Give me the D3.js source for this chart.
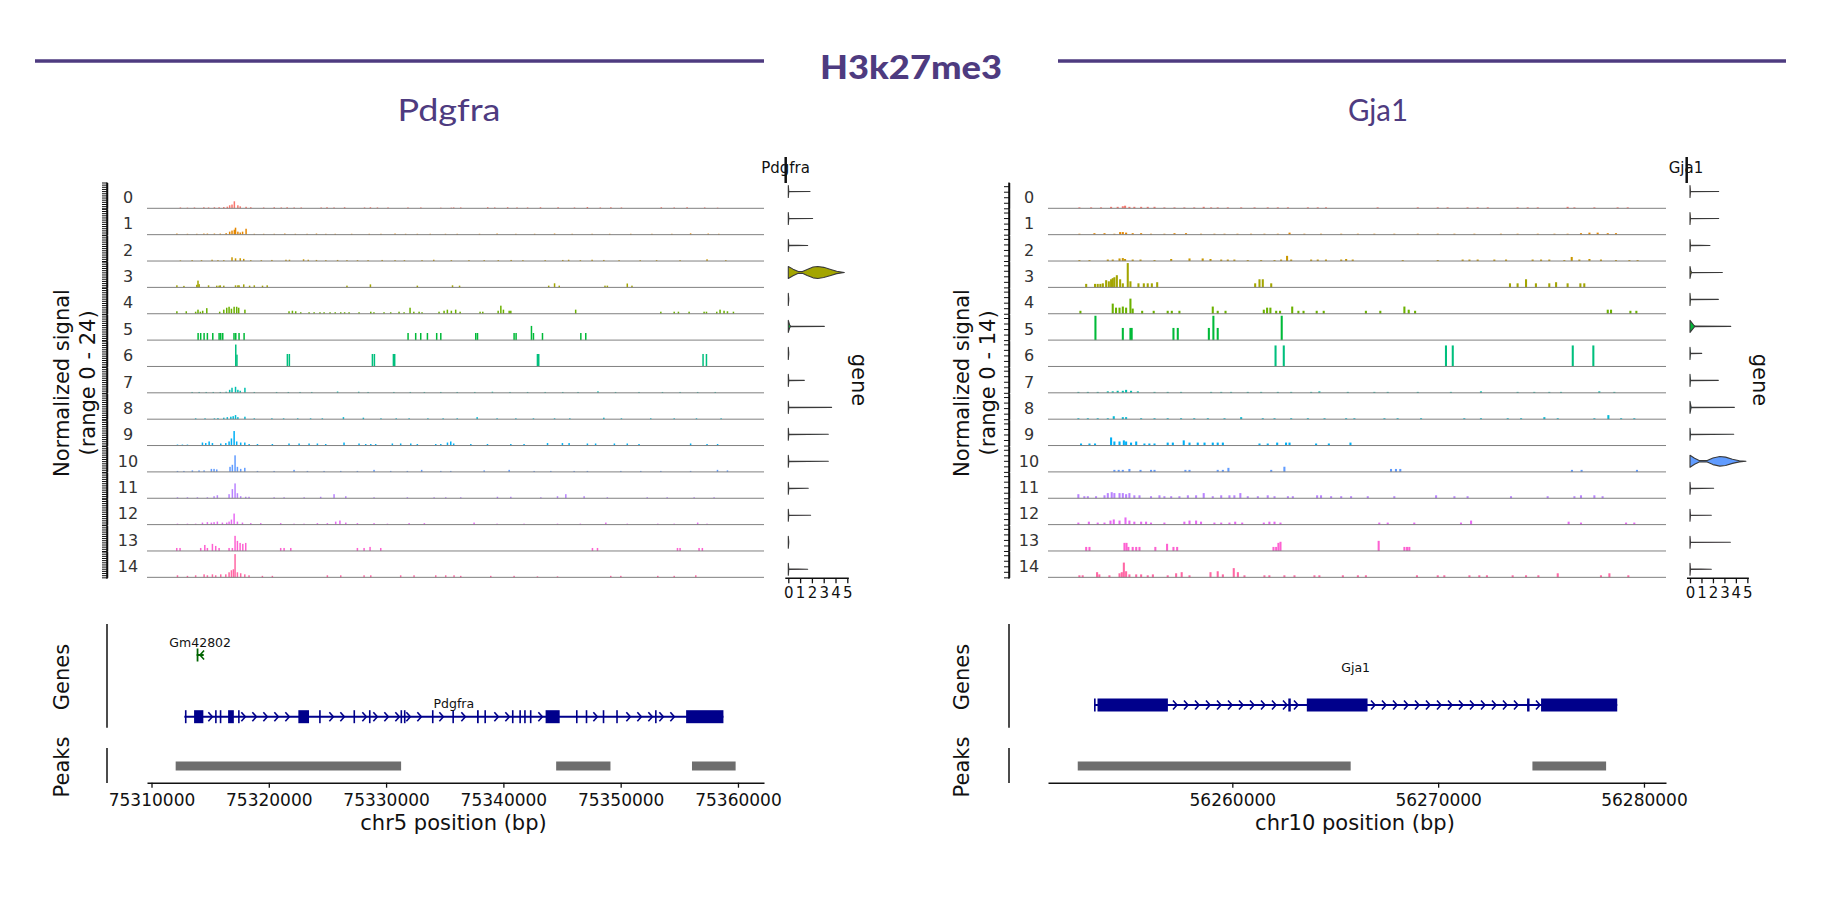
<!DOCTYPE html>
<html>
<head>
<meta charset="utf-8">
<script src="https://cdn.jsdelivr.net/npm/d3@7/dist/d3.min.js"></script>
<style>
  body { margin: 0; background: #fff; }
  svg text { font-family: "DejaVu Sans", sans-serif; }
</style>
</head>
<body>
<svg id="chart" width="1822" height="911"></svg>
<script>
// ---------- shared ----------
const markTitle = "H3k27me3";
const clusterNames = ["0","1","2","3","4","5","6","7","8","9","10","11","12","13","14"];
const clusterColors = ["#F8766D","#E58700","#C99800","#A3A500","#6BB100","#00BA38","#00BF7D","#00C0AF",
                       "#00BCD8","#00B0F6","#619CFF","#B983FF","#E76BF3","#FD61D1","#FF67A4"];
const violinTicks = [0, 1, 2, 3, 4, 5];
const binSize = 100; // bp per coverage bin

// ---------- Pdgfra (chr5) : positions are kb after pdgfraBase ----------
const pdgfraBase = 75300000;
const pdgfraRange = [75309616, 75362220];
const pdgfraTicks = [75310000, 75320000, 75330000, 75340000, 75350000, 75360000];
const pdgfraSignal = [
  [[12.4,.8],[13.0,.6],[13.6,.8],[14.4,1],[14.8,.8],[15.3,1],[15.7,1],[16.1,1.2],[16.4,1.5],[16.6,2.8],[16.8,3.5],[17.0,6.5],[17.3,2.8],[17.5,1.8],[18.0,1.4],[18.4,1],[19.5,.8],[20.4,1],[21.0,.8],[21.5,1],[22.1,.8],[22.7,.8],[24.4,.8],[24.9,1],[25.5,.8],[26.4,1],[28.1,.8],[28.6,1],[29.2,.8],[30.1,.8],[31.8,.8],[32.9,.8],[34.6,.6],[35.5,.6],[35.7,.8],[36.3,.8],[38.6,1],[39.2,.8],[40.3,1],[41.1,.8],[42.0,.8],[43.1,1],[44.6,1],[46.0,.8],[47.1,1.2],[48.2,.8],[49.1,1],[50.0,.8],[53.4,1],[54.5,.8],[55.6,1],[57.1,.8],[58.2,.6]],
  [[12.1,1],[13.0,.8],[13.8,.8],[14.4,1],[14.7,1],[15.3,1],[15.8,1],[16.3,1.4],[16.6,2.8],[16.8,3.8],[17.0,4.6],[17.1,6.5],[17.3,2.8],[17.5,2],[17.7,2.8],[18.0,5.5],[18.7,.8],[19.5,.8],[20.4,.8],[21.3,1],[22.2,.8],[23.2,.8],[24.0,1],[24.8,.8],[25.6,.8],[27.0,.8],[28.5,.8],[29.5,.8],[30.7,1],[31.6,.8],[32.6,.8],[33.7,.8],[35.0,.8],[36.0,.8],[37.9,.8],[39.4,1],[41.0,.8],[42.6,.8],[44.3,1],[45.8,.8],[47.5,.8],[49.0,.8],[50.8,.8],[52.6,.8],[54.3,.8],[55.9,1.2],[57.4,1],[58.3,.8]],
  [[12.4,.6],[13.4,.8],[14.2,.8],[15.1,1.2],[15.6,.8],[16.1,.8],[16.8,3.5],[17.1,2.5],[17.5,2.6],[17.8,2],[18.4,.8],[19.3,.8],[20.2,1],[21.4,1.2],[21.7,1.2],[22.9,1.6],[23.3,1.2],[24.0,1],[24.8,.8],[25.8,1],[26.6,.8],[27.5,.8],[28.4,.8],[29.6,1],[30.7,.8],[31.5,.8],[33.0,.8],[34.0,1.2],[35.5,.8],[37.0,.8],[38.3,.8],[39.5,.8],[40.6,1],[41.6,.8],[43.5,.8],[45.0,1],[45.5,1.2],[46.5,.8],[47.5,1.2],[48.5,1],[49.8,.8],[51.6,.8],[53.0,.8],[55.0,.8],[57.3,1.6],[58.9,.8]],
  [[12.1,1.9],[12.7,1.4],[13.8,2.4],[13.9,6.3],[14.0,3],[14.8,1.9],[15.5,1.6],[15.7,1.6],[15.8,1.9],[16.1,1.6],[17.1,1.9],[17.3,1.9],[17.4,1.9],[17.8,2.8],[18.3,1.6],[18.7,1.9],[19.4,1.6],[19.8,1.9],[26.6,1.6],[28.6,2.8],[32.6,1.6],[35.6,1.9],[36.2,1.6],[43.8,1.6],[44.3,3.8],[44.7,1.6],[48.6,1.6],[48.8,1.6],[50.5,3.6],[50.9,1.6]],
  [[12.1,2.3],[12.9,2.3],[13.7,1.9],[13.9,3.8],[14.1,1.9],[14.3,2.8],[14.65,5.2],[15.75,1.9],[16.1,3.8],[16.35,5.6],[16.55,6.5],[16.75,4.7],[16.98,6.5],[17.2,6.5],[17.37,5.6],[17.9,3.8],[21.66,2.3],[21.95,2.8],[22.23,2.3],[22.66,1.4],[23.37,1.4],[23.8,1.4],[24.3,1.4],[24.65,1.4],[25.16,1.4],[25.6,1.4],[26.07,1.4],[26.4,1.4],[26.78,1.4],[27.63,1.4],[28.63,1.9],[28.9,1.4],[29.76,1.4],[30.33,1.4],[31.04,1.9],[31.47,1.4],[31.98,5.6],[32.3,1.9],[32.75,1.9],[33.0,1.4],[34.45,1.9],[34.88,2.8],[35.16,3.8],[35.5,2.8],[35.87,3.8],[36.25,1.9],[37.95,1.9],[38.18,1.9],[39.49,2.8],[39.72,7.5],[39.94,3.8],[40.43,2.8],[40.57,2.8],[46.1,3.8],[53.36,1.9],[54.5,1.9],[54.86,1.9],[55.77,1.9],[57.05,1.9],[57.25,1.9],[58.13,1.9],[58.41,3.8],[58.75,2.8],[59.04,2.3],[59.55,1.9]],
  [[13.91,6.6],[14.13,6.6],[14.42,6.6],[14.7,6.6],[15.16,6.6],[15.7,6.6],[15.84,6.6],[16.01,6.6],[16.97,6.6],[17.12,6.6],[17.4,6.6],[17.83,6.6],[31.81,6.6],[32.46,6.6],[32.89,6.6],[33.46,6.6],[34.25,6.6],[34.6,6.6],[37.58,6.6],[37.73,6.6],[40.85,6.6],[41.02,6.6],[42.33,13.2],[42.5,6.6],[43.27,6.6],[46.54,6.6],[46.96,6.6]],
  [[17.12,20.4],[17.22,11],[21.52,11.6],[21.69,11.6],[28.77,11.6],[28.94,11.6],[30.56,11.6],[30.67,11.6],[42.84,11.6],[42.95,11.6],[56.96,11.6],[57.25,11.6]],
  [[13.4,.8],[14.0,.8],[14.6,.8],[15.2,.8],[15.8,.8],[16.3,1],[16.6,2.8],[16.8,4.7],[17.1,5.6],[17.3,2.8],[17.5,1.9],[17.9,4.7],[18.7,.8],[20.6,.8],[21.6,.8],[22.6,.8],[23.6,.8],[25.8,1.2],[27.6,1],[28.4,.8],[30.6,.8],[32.0,.8],[33.2,.8],[34.6,.8],[36.0,.8],[37.5,.8],[39.0,1],[40.5,.8],[42.0,.8],[43.5,.8],[45.0,.8],[46.3,.8],[48.0,1.4],[49.5,.8],[51.5,.8],[53.5,.8],[55.0,.8],[56.5,.8],[58.0,.8]],
  [[13.7,.8],[14.5,.8],[15.3,.8],[15.6,1],[16.1,1.4],[16.4,1.9],[16.7,2.3],[16.9,2.8],[17.1,3.8],[17.3,1.9],[17.9,2.3],[18.7,.8],[20.2,.8],[21.2,.8],[22.4,.8],[23.5,.8],[24.5,.8],[26.3,1.9],[28.0,1.4],[29.5,.8],[30.8,.8],[31.9,.8],[33.5,.8],[34.8,.8],[36.0,.8],[37.7,1.9],[39.4,.8],[41.0,.8],[42.5,.8],[44.3,.8],[45.6,.8],[48.5,1.4],[50.0,.8],[52.5,.8],[54.5,.8],[56.4,.8],[58.5,.8]],
  [[12.15,.9],[12.57,.9],[13.0,.9],[14.28,2.8],[14.56,2.3],[14.85,3.8],[15.13,2.3],[15.84,1.9],[16.27,2.3],[16.55,3.8],[16.75,6.6],[16.98,13.5],[17.2,3.8],[17.54,2.8],[17.89,2.8],[18.26,1.4],[18.97,1.4],[20.24,1.4],[21.66,1.9],[22.52,1.9],[23.37,1.9],[24.08,1.9],[24.79,1.4],[26.35,2.8],[27.63,1.9],[28.2,1.4],[28.63,1.4],[29.05,1.4],[30.47,1.9],[31.18,1.9],[32.04,1.9],[32.6,1.4],[34.17,1.4],[34.6,1.4],[35.17,2.8],[35.45,3.8],[35.7,1.9],[37.16,1.4],[38.58,1.4],[40.57,1.4],[41.7,1.4],[43.7,2.3],[44.97,2.3],[45.54,2.3],[47.1,1.9],[47.8,1.9],[49.4,1.9],[50.5,1.9],[51.5,1.4],[55.9,1.9],[57.3,1.4],[58.2,1.4]],
  [[12.15,.9],[12.7,.9],[13.42,1.4],[13.99,1.4],[14.42,1.4],[15.04,2.8],[15.27,2.8],[15.5,2.3],[16.63,4.7],[16.83,6.6],[17.06,15.4],[17.26,4.7],[17.54,2.8],[17.89,3.8],[18.97,.9],[20.39,.9],[22.09,1.9],[23.23,.9],[24.65,.9],[26.07,.9],[27.49,.9],[28.91,1.9],[30.33,.9],[31.75,.9],[32.97,1.9],[34.6,.9],[35.45,.9],[38.3,1.4],[40.43,1.9],[42.56,.9],[43.98,.9],[45.97,.9],[47.1,.9],[49.95,.9],[51.65,.9],[53.36,.9],[55.9,.9],[58.19,1.9],[59.04,1.4]],
  [[12.15,.9],[13.0,.9],[13.85,.9],[14.7,.9],[15.27,1.9],[15.55,2.8],[16.55,3.8],[16.83,8.5],[17.06,13.8],[17.26,4.7],[17.54,1.9],[17.97,1.4],[18.25,1.4],[20.39,.9],[21.24,.9],[22.95,.9],[24.36,1.4],[25.5,3.8],[26.5,1.9],[28.91,.9],[31.75,.9],[34.03,.9],[35.02,.9],[36.3,.9],[39.43,1.4],[40.57,1.4],[43.13,.9],[44.55,1.9],[45.26,3.8],[46.82,1.9],[48.8,.9],[52.2,.9],[53.9,.9],[56.2,.9],[57.9,.9]],
  [[12.15,.9],[13.0,.9],[13.7,.9],[14.28,1.9],[14.7,2.3],[15.04,1.9],[15.27,2.3],[15.55,2.8],[15.98,1.9],[16.35,1.9],[16.55,2.8],[16.75,4.7],[16.98,10.3],[17.26,2.8],[17.69,1.9],[18.4,1.4],[19.25,1.4],[20.95,1.4],[22.09,.9],[22.94,.9],[24.08,1.4],[24.93,1.4],[25.64,2.8],[26.0,3.8],[26.5,1.9],[27.49,1.4],[28.91,1.4],[30.05,.9],[31.9,1.4],[33.2,1.4],[37.44,1.9],[39.4,.9],[41.7,.9],[44.55,.9],[46.5,.9],[48.67,1.9],[50.5,.9],[53.1,.9],[54.5,.9],[56.5,1.9],[57.3,.9]],
  [[12.09,2.8],[12.37,2.8],[14.13,2.8],[14.48,5.6],[14.7,2.8],[15.13,6.6],[15.41,4.7],[15.7,2.8],[16.55,2.8],[16.83,2.8],[17.06,14.1],[17.26,9.4],[17.49,7.5],[17.72,6.6],[17.97,7.5],[20.95,2.8],[21.24,2.8],[21.81,2.8],[27.49,2.8],[28.06,2.8],[28.57,3.8],[29.48,2.8],[47.53,2.8],[47.96,2.8],[54.78,2.8],[55.0,2.8],[56.62,2.8],[56.9,2.8]],
  [[12.15,1.9],[13.0,1.4],[13.7,1.9],[14.42,2.8],[14.7,1.9],[15.13,2.8],[15.41,1.9],[15.84,2.8],[16.27,2.8],[16.55,4.7],[16.75,6.6],[16.92,7.5],[17.06,21.6],[17.26,4.7],[17.54,3.8],[17.89,2.8],[18.25,1.9],[19.39,1.4],[20.24,1.4],[24.93,1.9],[26.07,1.9],[28.06,1.9],[28.63,1.9],[31.18,1.9],[32.32,1.9],[34.17,1.9],[35.02,1.9],[35.73,1.9],[36.3,1.4],[38.86,1.4],[40.85,1.4],[42.84,.9],[44.55,.9],[49.09,1.4],[49.95,1.4],[53.1,1.4],[54.5,1.4],[56.34,1.9]]
];
const pdgfraViolinMax = [1.84, 2.06, 1.64, 4.75, 0, 3.05, 0, 1.36, 3.67, 3.39, 3.39, 1.69, 1.89, 0, 1.64];
// density outlines [expression, relative half width] for clusters with visible bodies
const pdgfraViolinC3 = [[0,1],[0.4,0.55],[0.85,0.15],[1.2,0.15],[1.6,0.5],[2.1,0.9],[2.5,1],[3.0,0.85],[3.6,0.5],[4.1,0.2],[4.75,0]];
const pdgfraViolinC5 = [[0,1],[0.12,0.2],[0.2,0.04],[3.05,0]];
const pdgfraViolinShapes = [null,null,null,pdgfraViolinC3,null,pdgfraViolinC5,null,null,null,null,null,null,null,null,null];
const pdgfraGeneSpan = [12.8, 58.76];
const pdgfraExons = [[12.85,12.97],[13.63,14.42],[15.42,15.54],[15.82,15.94],[16.53,17.02],[17.38,17.5],[22.52,23.43],[24.29,24.41],
  [27.22,27.34],[28.54,28.66],[31.23,31.35],[31.52,31.64],[33.91,34.03],[35.65,35.77],[37.75,37.9],[38.38,38.5],[40.73,40.85],
  [41.36,41.48],[41.77,41.89],[42.26,42.38],[43.6,44.8],[46.19,46.31],[47.02,47.14],[48.47,48.59],[49.62,49.74],[52.93,53.05],[55.58,58.76]];
const gm42802Span = [13.85, 14.45];
const gm42802Exons = [[13.85,14.0]];
const pdgfraPeaks = [[12.06,31.28],[44.5,49.13],[56.08,59.8]];

// ---------- Gja1 (chr10) : positions are kb after gja1Base ----------
const gja1Base = 56250000;
const gja1Range = [56251045, 56281070];
const gja1Ticks = [56260000, 56270000, 56280000];
const gja1Signal = [
  [[2.52,.5],[3.09,.5],[3.57,.5],[4.06,.8],[4.38,.8],[4.63,1.1],[4.74,1.4],[4.95,.8],[5.19,.8],[5.52,.8],[5.84,.8],[6.17,.8],[6.65,.5],[7.14,.5],[7.62,.5],[8.1,.5],[8.56,.8],[8.92,.5],[9.24,.5],[9.73,.5],[10.38,.5],[11.03,.5],[11.67,.5],[12.16,.5],[12.65,.5],[13.62,.5],[14.1,.5],[14.5,.5],[17.01,.5],[18.96,.5],[19.93,.5],[20.41,.5],[21.38,.5],[21.87,.5],[22.36,.5],[23.81,.5],[24.3,.5],[24.79,.5],[26.24,.8],[26.57,.5],[27.54,.5],[28.67,.5],[29.16,.5]],
  [[2.52,.5],[3.25,.8],[3.74,.8],[4.22,.5],[4.5,1.4],[4.63,1.4],[4.79,1.1],[5.11,.8],[5.52,.8],[6.0,.5],[6.65,.5],[7.14,.8],[7.7,.8],[8.43,.5],[9.08,.5],[9.57,.5],[10.2,.5],[10.86,.5],[11.51,.5],[12.16,.5],[12.73,1.1],[13.45,.5],[14.26,.5],[15.24,.5],[16.05,.5],[16.85,.5],[17.82,.5],[18.96,.5],[19.93,.5],[20.74,.5],[21.71,.5],[23.0,.5],[23.81,.5],[24.79,.5],[25.6,.5],[26.24,.5],[26.89,.8],[27.3,1.1],[27.7,1.1],[28.19,.8],[28.59,.8]],
  [[2.52,.5],[3.01,.5],[3.9,.8],[4.14,.8],[4.47,1.4],[4.63,1.6],[4.74,1.1],[5.11,.8],[5.49,.8],[6.17,.5],[6.98,1.1],[7.87,1.4],[8.51,1.4],[8.89,1.1],[9.41,.8],[9.73,.8],[10.05,.8],[10.7,.5],[11.35,.5],[12.0,.5],[12.32,.8],[12.61,2.8],[12.81,.8],[13.78,.8],[14.1,.8],[14.5,.8],[15.24,.8],[15.48,1.1],[15.8,.8],[18.23,.5],[19.93,.5],[21.14,.8],[21.47,.8],[21.87,.8],[22.68,.8],[23.25,.8],[24.54,.8],[24.95,.8],[25.35,.8],[26.08,.5],[26.44,2.2],[26.81,.8],[27.3,1.1],[27.86,.8],[28.59,.5],[29.24,.5],[29.64,.5]],
  [[2.85,1.9],[3.28,1.9],[3.41,1.9],[3.54,1.9],[3.66,2.2],[3.82,3.9],[3.95,3.3],[4.06,4.4],[4.14,5],[4.22,5.5],[4.34,6.6],[4.5,4.4],[4.63,2.2],[4.87,13.2],[5.0,3.3],[5.39,2.2],[5.65,2.2],[5.84,2.2],[6.04,2.2],[6.3,2.8],[11.06,2.2],[11.27,4.4],[11.43,4.4],[11.84,2.2],[23.44,2.2],[23.81,2.2],[24.22,4.4],[24.7,2.2],[25.35,2.2],[25.68,2.8],[26.24,2.2],[26.86,2.2],[27.05,2.2]],
  [[2.57,1.6],[4.14,5.5],[4.3,3.3],[4.47,3.3],[4.63,3.9],[4.79,3.3],[5.0,8.2],[5.11,2.8],[5.57,1.6],[6.13,1.6],[6.81,1.6],[7.01,1.6],[7.38,1.6],[9.0,3.9],[9.24,1.6],[9.62,1.6],[11.48,2.2],[11.64,3.3],[11.8,3.3],[12.08,1.6],[12.27,1.6],[12.86,3.9],[13.16,1.6],[13.41,1.6],[14.05,1.6],[14.39,1.6],[16.44,1.6],[17.14,1.6],[18.31,3.9],[18.52,2.2],[18.83,1.6],[28.19,2.2],[28.35,2.2],[29.29,1.6],[29.58,1.6]],
  [[3.3,13.2],[4.63,6.6],[5.0,6.6],[5.06,6.6],[7.09,6.6],[7.3,6.6],[8.81,6.6],[9.03,13.2],[9.24,6.6],[12.35,13.2]],
  [[12.05,11.4],[12.45,11.4],[20.33,11.4],[20.66,11.4],[26.49,11.4],[27.49,11.4]],
  [[2.47,.5],[2.93,.5],[3.41,.5],[3.9,.8],[4.14,.8],[4.38,1.1],[4.63,1.1],[4.79,1.6],[5.03,1.1],[5.36,.8],[6.17,.5],[6.81,.5],[7.46,.5],[8.92,.5],[9.41,.5],[9.89,.5],[10.7,.5],[11.35,.5],[12.16,.5],[12.81,.5],[13.78,.5],[14.18,.8],[15.56,.5],[16.85,.5],[17.5,.5],[18.96,.5],[20.57,.5],[22.03,.8],[23.81,.5],[24.62,.5],[25.35,.5],[25.92,.5],[27.78,.8],[28.51,.5]],
  [[2.47,.5],[2.93,.5],[3.41,.5],[3.9,.5],[4.19,1.6],[4.63,1.1],[4.79,1.1],[5.52,.5],[6.17,.5],[6.81,.5],[7.46,.5],[8.1,.5],[8.76,.5],[9.57,.5],[10.38,1.1],[11.43,.5],[12.0,.5],[12.81,.5],[13.62,.5],[14.43,.5],[15.48,.5],[15.88,.5],[17.34,.5],[17.98,.5],[19.12,.5],[21.22,.5],[22.03,.5],[23.33,.5],[23.98,.5],[25.11,1.1],[25.76,.5],[27.54,.5],[28.22,2.2],[28.84,.5],[29.48,.5]],
  [[2.6,1.1],[3.01,1.1],[3.28,1.1],[4.06,4.4],[4.22,2.2],[4.47,2.2],[4.68,2.8],[4.79,2.2],[5.03,1.6],[5.28,2.2],[5.68,1.1],[5.92,1.1],[6.17,1.1],[6.81,1.6],[7.06,1.6],[7.59,2.8],[7.87,1.6],[8.27,1.6],[8.6,1.6],[9.0,1.6],[9.24,1.6],[9.49,1.6],[11.27,1.1],[11.67,1.1],[12.13,1.6],[12.56,1.6],[12.73,1.6],[14.02,1.1],[14.64,1.1],[15.69,1.6]],
  [[4.22,1.1],[4.43,1.1],[4.63,1.1],[4.95,1.6],[5.49,1.1],[6.0,1.1],[6.17,1.1],[7.67,1.1],[7.87,1.1],[9.24,1.1],[9.49,1.1],[9.76,2.2],[11.84,1.1],[12.48,2.8],[17.66,1.6],[17.9,1.6],[18.11,1.6],[26.45,1.1],[26.92,1.1],[29.61,1.1]],
  [[2.47,2.2],[2.76,1.1],[2.93,1.1],[3.33,1.1],[3.74,1.6],[3.9,2.8],[4.09,3.3],[4.22,2.8],[4.47,2.8],[4.63,2.8],[4.79,2.2],[4.95,2.8],[5.19,1.6],[5.44,1.6],[6.0,1.1],[6.41,1.6],[6.65,1.1],[6.98,1.1],[7.38,1.1],[7.79,1.6],[8.19,1.6],[8.56,2.8],[9.0,1.1],[9.41,1.6],[9.81,1.6],[10.05,1.6],[10.34,2.8],[10.7,1.1],[11.19,1.1],[11.67,1.6],[12.0,1.1],[12.65,1.1],[12.89,1.1],[14.07,1.6],[14.26,1.6],[14.75,1.1],[15.24,1.1],[15.72,1.1],[16.53,1.1],[17.82,1.1],[19.85,1.6],[20.74,1.1],[21.38,1.1],[23.49,1.1],[25.27,1.1],[26.57,1.1],[26.89,1.6],[27.54,1.6],[27.94,1.1]],
  [[2.47,1.1],[2.98,1.6],[3.41,1.1],[3.74,1.1],[4.03,2.2],[4.19,2.8],[4.47,2.2],[4.76,3.9],[4.95,2.2],[5.19,1.6],[5.52,1.6],[5.76,1.6],[6.0,1.1],[6.65,1.1],[7.62,1.6],[7.87,2.2],[8.19,2.2],[8.43,1.6],[9.08,1.1],[9.41,1.1],[9.81,1.1],[10.09,1.6],[10.43,1.1],[11.48,1.1],[11.75,1.6],[12.0,1.6],[12.29,1.1],[17.09,1.1],[17.5,1.1],[18.79,1.1],[21.06,1.1],[21.55,2.2],[26.29,1.6],[26.89,1.1],[29.08,1.1],[29.48,1.1]],
  [[2.85,2.2],[3.01,2.2],[4.71,4.4],[4.81,4.4],[4.9,2.2],[5.11,2.2],[5.28,2.2],[5.44,2.2],[6.21,2.2],[6.78,3.9],[7.09,2.2],[7.27,2.2],[11.95,2.2],[12.08,2.2],[12.19,4.4],[12.29,5],[17.06,5.5],[18.31,2.2],[18.44,2.2],[18.55,2.2]],
  [[2.52,1.1],[2.68,1.1],[3.38,2.8],[3.49,1.6],[3.98,1.1],[4.47,2.2],[4.58,2.8],[4.68,8],[4.79,3.3],[4.95,1.6],[5.28,1.6],[5.52,1.6],[5.84,1.1],[6.09,1.6],[6.81,1.1],[7.22,2.2],[7.49,2.8],[7.87,1.1],[8.89,2.8],[9.24,3.3],[9.49,1.6],[10.02,5],[10.22,2.8],[10.54,1.1],[11.51,1.1],[11.75,1.1],[12.48,1.1],[12.97,1.1],[13.94,1.1],[14.18,1.1],[15.32,1.1],[16.05,1.1],[16.44,1.1],[18.92,1.1],[19.93,1.1],[20.25,1.1],[21.47,1.1],[21.95,1.1],[22.32,1.1],[23.57,1.1],[24.22,1.1],[24.82,1.1],[25.76,2.2],[27.86,1.1],[28.27,2.2],[29.19,1.1]]
];
const gja1ViolinMax = [2.5, 2.5, 1.74, 2.82, 2.47, 3.55, 1.02, 2.47, 3.87, 3.81, 4.88, 2.06, 1.86, 3.52, 1.86];
const gja1ViolinC3 = [[0,1],[0.08,0.2],[0.15,0.04],[2.82,0]];
const gja1ViolinC5 = [[0,1],[0.35,0.15],[0.45,0.04],[3.55,0]];
const gja1ViolinC8 = [[0,1],[0.08,0.2],[0.12,0.04],[3.87,0]];
const gja1ViolinC10 = [[0,1],[0.4,0.5],[0.8,0.12],[1.5,0.12],[2.0,0.55],[2.6,0.8],[3.1,0.7],[3.7,0.35],[4.3,0.1],[4.88,0]];
const gja1ViolinShapes = [null,null,null,gja1ViolinC3,null,gja1ViolinC5,null,null,gja1ViolinC8,null,gja1ViolinC10,null,null,null,null];
const gja1GeneSpan = [3.28, 28.7];
const gja1Exons = [[3.28,3.36],[3.45,6.87],[12.72,12.84],[13.62,16.57],[24.32,24.44],[25.0,28.7]];
const gja1Peaks = [[2.49,15.75],[24.58,28.16]];

// ---------- layout ----------
const W = 1822, H = 911;
const purple = "#4E3B80";
const geneBlue = "#00008B";
const baseline0 = 208.3, trackStep = 26.36, trackH = 25.8;
const violinY0 = 191.5, violinStep = 26.98, violinHalf = 6;
const axisY = 782.7;

const svg = d3.select("#chart");
svg.append("rect").attr("width", W).attr("height", H).attr("fill", "#fff");

// header
svg.append("line").attr("x1", 35).attr("x2", 764).attr("y1", 61).attr("y2", 61)
  .attr("stroke", purple).attr("stroke-width", 3.5);
svg.append("line").attr("x1", 1058).attr("x2", 1786).attr("y1", 61).attr("y2", 61)
  .attr("stroke", purple).attr("stroke-width", 3.5);
svg.append("text").text(markTitle)
  .attr("x", 911).attr("y", 79).attr("text-anchor", "middle")
  .attr("textLength", 182).attr("lengthAdjust", "spacingAndGlyphs")
  .style("font-family", "Lato, 'DejaVu Sans', sans-serif").style("font-weight", 900)
  .style("font-size", "33px").attr("fill", purple);

const panels = [
  {name: "Pdgfra", chrom: "chr5", base: pdgfraBase, range: pdgfraRange, ticks: pdgfraTicks,
   signal: pdgfraSignal, maxSignal: 24, tickStep: 2, violinMax: pdgfraViolinMax, violinShapes: pdgfraViolinShapes,
   genes: [
     {name: "Pdgfra", span: pdgfraGeneSpan, exons: pdgfraExons, strand: 1, color: geneBlue, y: 716.7, labelY: 708},
     {name: "Gm42802", span: gm42802Span, exons: gm42802Exons, strand: -1, color: "#006400", y: 655, labelY: 647}
   ],
   peaks: pdgfraPeaks,
   x0: 147, x1: 764, axisX: 107, labelX: 128, ylabX: 62, vx0: 788.3, vUnit: 11.8,
   titleX: 449, titleLen: 103, headX: 785.5, headLineX: 785.7, geneLabX: 859},
  {name: "Gja1", chrom: "chr10", base: gja1Base, range: gja1Range, ticks: gja1Ticks,
   signal: gja1Signal, maxSignal: 14, tickStep: 3, violinMax: gja1ViolinMax, violinShapes: gja1ViolinShapes,
   genes: [
     {name: "Gja1", span: gja1GeneSpan, exons: gja1Exons, strand: 1, color: geneBlue, y: 705, labelY: 672}
   ],
   peaks: gja1Peaks,
   x0: 1048, x1: 1666, axisX: 1009, labelX: 1029, ylabX: 962, vx0: 1690, vUnit: 11.47,
   titleX: 1378, titleLen: 60, headX: 1686, headLineX: 1686.7, geneLabX: 1760}
];

function rotatedText(g, str, cx, cy, angle, size) {
  return g.append("text").text(str)
    .attr("transform", `translate(${cx},${cy}) rotate(${angle})`)
    .attr("text-anchor", "middle").attr("dominant-baseline", "central")
    .style("font-size", size + "px").attr("fill", "#111");
}

function drawPanel(p) {
  const g = svg.append("g");
  const x = d3.scaleLinear().domain(p.range).range([p.x0, p.x1]);
  const bp = kb => p.base + kb * 1000;

  // panel title
  g.append("text").text(p.name).attr("x", p.titleX).attr("y", 121)
    .attr("text-anchor", "middle").attr("textLength", p.titleLen).attr("lengthAdjust", "spacingAndGlyphs")
    .style("font-family", "Lato, 'DejaVu Sans', sans-serif").style("font-size", "31px").attr("fill", purple);

  // coverage tracks
  p.signal.forEach((bars, i) => {
    const b = baseline0 + i * trackStep;
    const y = d3.scaleLinear().domain([0, p.maxSignal]).range([b, b - trackH]);
    g.append("g").selectAll("rect").data(bars).join("rect")
      .attr("x", d => x(bp(d[0])))
      .attr("width", d => Math.max(1.5, x(bp(d[0]) + binSize) - x(bp(d[0]))))
      .attr("y", d => y(d[1]))
      .attr("height", d => y(0) - y(d[1]))
      .attr("fill", clusterColors[i]);
    g.append("line").attr("x1", p.x0).attr("x2", p.x1).attr("y1", b).attr("y2", b)
      .attr("stroke", "#808080").attr("stroke-width", 1);
    g.append("text").text(clusterNames[i]).attr("x", p.labelX).attr("y", b - 5.3)
      .attr("text-anchor", "middle").style("font-size", "16px").attr("fill", "#333");
    const ax = g.append("g").attr("transform", `translate(${p.axisX},0)`)
      .call(d3.axisLeft(y).tickValues(d3.range(0, p.maxSignal + 0.01, p.tickStep))
        .tickSize(5).tickSizeOuter(0).tickFormat(""));
    ax.selectAll("line").attr("stroke", "#111");
    ax.select(".domain").attr("stroke", "#111").attr("stroke-width", 1.5);
  });
  g.append("line").attr("x1", p.axisX).attr("x2", p.axisX)
    .attr("y1", baseline0 - trackH).attr("y2", baseline0 + 14 * trackStep + 1.5)
    .attr("stroke", "#111").attr("stroke-width", 1.5);

  const ylab = g.append("text").attr("transform", `translate(${p.ylabX},383) rotate(-90)`)
    .attr("text-anchor", "middle").style("font-size", "21px").attr("fill", "#111");
  ylab.append("tspan").attr("x", 0).attr("dy", "0.35em").text("Normalized signal");
  ylab.append("tspan").attr("x", 0).attr("dy", "1.2em").text(`(range 0 - ${p.maxSignal})`);

  // expression violins
  const vx = d3.scaleLinear().domain([0, 5]).range([p.vx0, p.vx0 + 5 * p.vUnit]);
  const vArea = d3.area().x(d => vx(d[0]));
  p.violinMax.forEach((m, i) => {
    const cy = violinY0 + i * violinStep;
    const prof = p.violinShapes[i] || [[0, 1], [0.04, 0.05], [Math.max(m, 0.01), 0]];
    vArea.y0(d => cy + d[1] * violinHalf).y1(d => cy - d[1] * violinHalf);
    g.append("path").attr("d", vArea(prof))
      .attr("fill", clusterColors[i]).attr("stroke", "#3a3a3a").attr("stroke-width", 1.1)
      .attr("stroke-linejoin", "round");
  });
  const vAxis = g.append("g").attr("transform", `translate(0,578.3)`)
    .call(d3.axisBottom(vx).tickValues(violinTicks).tickFormat(d3.format("d"))
      .tickSize(5).tickPadding(4).tickSizeOuter(0));
  vAxis.select(".domain").attr("stroke", "#111").attr("stroke-width", 1.5)
    .attr("d", `M${vx(0) - 3},0H${vx(5) + 1.5}`);
  vAxis.selectAll("line").attr("stroke", "#111").attr("stroke-width", 1.3);
  vAxis.selectAll("text").style("font-size", "15px").style("font-family", "DejaVu Sans").attr("fill", "#111");

  g.append("text").text(p.name).attr("x", p.headX).attr("y", 173)
    .attr("text-anchor", "middle").style("font-size", "15px").attr("fill", "#111");
  g.append("line").attr("x1", p.headLineX).attr("x2", p.headLineX).attr("y1", 157).attr("y2", 183)
    .attr("stroke", "#111").attr("stroke-width", 2.5);
  rotatedText(g, "gene", p.geneLabX, 380, 90, 21);

  // gene models
  g.append("line").attr("x1", p.axisX).attr("x2", p.axisX).attr("y1", 624).attr("y2", 727.7)
    .attr("stroke", "#111").attr("stroke-width", 1.5);
  rotatedText(g, "Genes", p.ylabX, 677, -90, 21);
  p.genes.forEach(gene => {
    const gx0 = x(bp(gene.span[0])), gx1 = x(bp(gene.span[1]));
    const ex = gene.exons.map(e => [x(bp(e[0])), x(bp(e[1]))]);
    g.append("line").attr("x1", gx0).attr("x2", gx1).attr("y1", gene.y).attr("y2", gene.y)
      .attr("stroke", gene.color).attr("stroke-width", 2);
    // strand chevrons along the introns
    const chev = [];
    for (let cx = gx0 + 4; cx < gx1 - 3; cx += 11) {
      if (!ex.some(e => cx > e[0] - 3 && cx < e[1] + 3)) chev.push(cx);
    }
    if (!chev.length) chev.push((d3.max(ex, e => e[1]) + gx1) / 2 + 1);
    g.append("g").selectAll("path").data(chev).join("path")
      .attr("d", cx => `M${cx - 2 * gene.strand},${gene.y - 4.5}L${cx + 2 * gene.strand},${gene.y}L${cx - 2 * gene.strand},${gene.y + 4.5}`)
      .attr("fill", "none").attr("stroke", gene.color).attr("stroke-width", 1.6);
    g.append("g").selectAll("rect").data(ex).join("rect")
      .attr("x", e => e[0]).attr("width", e => Math.max(1.6, e[1] - e[0]))
      .attr("y", gene.y - 6.5).attr("height", 13).attr("fill", gene.color);
    g.append("text").text(gene.name).attr("x", (gx0 + gx1) / 2).attr("y", gene.labelY)
      .attr("text-anchor", "middle").style("font-size", "12.5px").attr("fill", "#111");
  });

  // peaks
  g.append("line").attr("x1", p.axisX).attr("x2", p.axisX).attr("y1", 748).attr("y2", 783)
    .attr("stroke", "#111").attr("stroke-width", 1.5);
  rotatedText(g, "Peaks", p.ylabX, 767, -90, 21);
  g.append("g").selectAll("rect").data(p.peaks).join("rect")
    .attr("x", d => x(bp(d[0]))).attr("width", d => x(bp(d[1])) - x(bp(d[0])))
    .attr("y", 761.5).attr("height", 9).attr("fill", "#6E6E6E");

  // genomic axis
  const xAxis = g.append("g").attr("transform", `translate(0,${axisY})`)
    .call(d3.axisBottom(x).tickValues(p.ticks).tickFormat(d3.format("d")).tickSize(5).tickPadding(6).tickSizeOuter(0));
  xAxis.select(".domain").attr("stroke", "#111").attr("stroke-width", 1.5);
  xAxis.selectAll("line").attr("stroke", "#111").attr("stroke-width", 1.3);
  xAxis.selectAll("text").style("font-size", "17px").style("font-family", "DejaVu Sans").attr("fill", "#111");
  g.append("text").text(`${p.chrom} position (bp)`).attr("x", (p.x0 + p.x1) / 2 - 2).attr("y", 830)
    .attr("text-anchor", "middle").style("font-size", "21px").attr("fill", "#111");
}

panels.forEach(drawPanel);
</script>
</body>
</html>
